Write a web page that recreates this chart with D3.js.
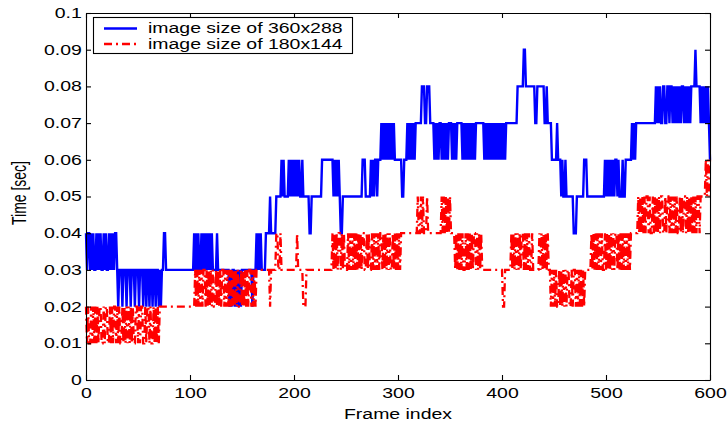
<!DOCTYPE html>
<html>
<head>
<meta charset="utf-8">
<script src="https://cdn.jsdelivr.net/npm/d3@7"></script>
<style>
  body { margin: 0; background: #fff; }
  svg { display: block; }
</style>
</head>
<body>
<svg id="chart"></svg>
<script>
// one digit per frame (frames 0..600), time in hundredths of a second
var time360 = [
  "4344343433","4343433434","3343434344","3233323332","3332333233",
  "3233323323","3233233233","2323344333","3333333333","3333333333",
  "3333434343","3434343434","3433334333","3333333323","2332323232",
  "3333333333","2333434343","3334444544","4445555565","6555565656",
  "5656565565","5555544555","5555555666","6666666656","5656544555",
  "5555555555","5555556665","5555656566","5666767676","7676767666",
  "6666556667","6767676777","7778887788","8777767676","7767676767",
  "7767676777","7767676767","6767677777","7776767676","7676767676",
  "7676777777","7777788888","8998888888","8877888888","8778777766",
  "6667666565","5655555554","4455555556","6655555555","5555555556",
  "5656565656","6565556556","6666676767","7777777777","7777777787",
  "8787788778","8788787878","7878878787","8788889888","8787878787",
  "6"
];
var time180 = [
  "2121121212","1212211212","2112121221","2121121212","1212121122",
  "1212211212","2121121212","1222222222","2222222222","2222222222",
  "2222232323","2323323232","3232232323","2332323232","3232323223",
  "2323232332","3232333333","3333333233","3334433433","3333333333",
  "3334333332","2233333333","3333333333","3333333434","3434434343",
  "3343434343","4343434433","4343343434","3434434343","4343343434",
  "3434444444","4444444445","4454544454","4444444444","4454545454",
  "5444434343","4343343434","3434434343","4333333333","3333333333",
  "3223333334","3434343434","4343434334","3333334343","4343433232",
  "3232232323","2323322323","3232323232","3333334343","4343434334",
  "3434343434","4343434343","4343444444","4545454545","5454454545",
  "4545544545","5454545454","4545455454","5454545455","4555556565",
  "6"
];
var xTicks = [0, 100, 200, 300, 400, 500, 600];
var xTickLabels = ["0", "100", "200", "300", "400", "500", "600"];
var yTicks = [0, 0.01, 0.02, 0.03, 0.04, 0.05, 0.06, 0.07, 0.08, 0.09, 0.1];
var yTickLabels = ["0", "0.01", "0.02", "0.03", "0.04", "0.05", "0.06", "0.07", "0.08", "0.09", "0.1"];
var seriesNames = ["image size of 360x288", "image size of 180x144"];

var toValues = function(chunks) {
    return chunks.join("").split("").map(function(c, i) {
        return {frame: i, time: +c / 100};
    });
}

var width = 728;
var height = 425;
var font = "'Liberation Sans', Arial, Helvetica, sans-serif";
var stretch = 1.39; // the text in the picture is widened
var dashDot = "8,4,2,4";

var svg = d3.select("#chart")
    .attr("width", width)
    .attr("height", height);

var xScale = d3.scaleLinear().domain([0, 600]).range([86, 710]);
var yScale = d3.scaleLinear().domain([0, 0.1]).range([380, 13]);

var line = d3.line()
    .x(function(d) { return xScale(d.frame); })
    .y(function(d) { return yScale(d.time); });

//draw the two series, red on top
svg.append("path")
    .datum(toValues(time360))
    .attr("d", line)
    .attr("fill", "none")
    .attr("stroke", "#0000ff")
    .attr("stroke-width", 2.4);

svg.append("path")
    .datum(toValues(time180))
    .attr("d", line)
    .attr("fill", "none")
    .attr("stroke", "#ff0000")
    .attr("stroke-width", 2.3)
    .attr("stroke-dasharray", dashDot);

//axes, ticks pointing inside on all four sides
var styleAxis = function(g) {
    g.attr("font-size", 14).attr("font-family", font);
    g.selectAll("path, line").attr("stroke", "#000").attr("stroke-width", 1.1);
    g.selectAll("text").attr("fill", "#000").attr("transform", "scale(" + stretch + ",1)");
}

svg.append("g")
    .attr("transform", "translate(0,380)")
    .call(d3.axisBottom(xScale).tickValues(xTicks).tickSizeInner(-5).tickSizeOuter(0)
        .tickFormat(function(d, i) { return xTickLabels[i]; }))
    .call(styleAxis)
    .selectAll("text").attr("y", 18).attr("dy", 0);

svg.append("g")
    .attr("transform", "translate(0,13)")
    .call(d3.axisTop(xScale).tickValues(xTicks).tickSizeInner(-5).tickSizeOuter(0).tickFormat(""))
    .call(styleAxis);

svg.append("g")
    .attr("transform", "translate(86,0)")
    .call(d3.axisLeft(yScale).tickValues(yTicks).tickSizeInner(-5).tickSizeOuter(0)
        .tickFormat(function(d, i) { return yTickLabels[i]; }))
    .call(styleAxis);

svg.append("g")
    .attr("transform", "translate(710,0)")
    .call(d3.axisRight(yScale).tickValues(yTicks).tickSizeInner(-5).tickSizeOuter(0).tickFormat(""))
    .call(styleAxis);

//axis titles
svg.append("text")
    .attr("transform", "translate(398,419) scale(" + stretch + ",1)")
    .attr("text-anchor", "middle")
    .attr("font-family", font)
    .attr("font-size", 14)
    .text("Frame index");

svg.append("text")
    .attr("transform", "translate(26,193) scale(" + stretch + ",1) rotate(-90)")
    .attr("text-anchor", "middle")
    .attr("font-family", font)
    .attr("font-size", 14)
    .text("Time [sec]");

//legend
var legend = svg.append("g");
legend.append("rect")
    .attr("x", 93.5).attr("y", 17.5)
    .attr("width", 259).attr("height", 36)
    .attr("fill", "#fff")
    .attr("stroke", "#000")
    .attr("stroke-width", 1.1);

var legendColors = ["#0000ff", "#ff0000"];
var legendDash = [null, dashDot];
var legendRows = [28.5, 44];

seriesNames.forEach(function(name, i) {
    legend.append("line")
        .attr("x1", 104).attr("x2", 137)
        .attr("y1", legendRows[i]).attr("y2", legendRows[i])
        .attr("stroke", legendColors[i])
        .attr("stroke-width", 2.4)
        .attr("stroke-dasharray", legendDash[i]);
    legend.append("text")
        .attr("transform", "translate(148," + (legendRows[i] + 4.5) + ") scale(" + stretch + ",1)")
        .attr("font-family", font)
        .attr("font-size", 14)
        .text(name);
});
</script>
</body>
</html>
